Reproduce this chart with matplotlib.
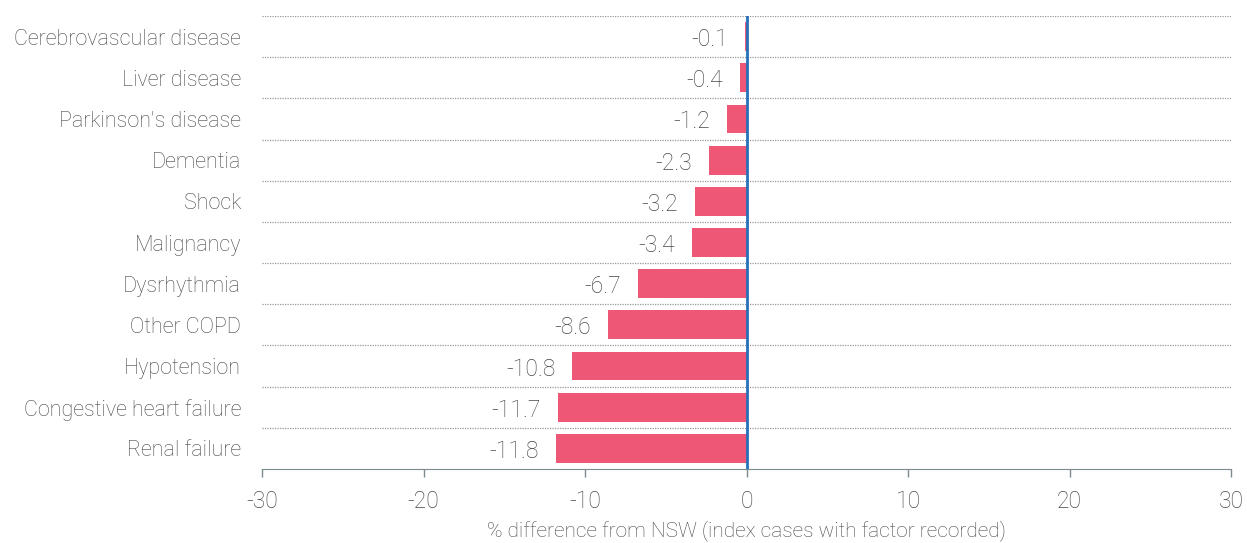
import matplotlib.pyplot as plt
from matplotlib.transforms import offset_copy

categories = ["Cerebrovascular disease", "Liver disease", "Parkinson's disease",
              "Dementia", "Shock", "Malignancy", "Dysrhythmia", "Other COPD",
              "Hypotension", "Congestive heart failure", "Renal failure"]
values = [-0.1, -0.4, -1.2, -2.3, -3.2, -3.4, -6.7, -8.6, -10.8, -11.7, -11.8]
xticks = [-30, -20, -10, 0, 10, 20, 30]
xlabel = "% difference from NSW (index cases with factor recorded)"

plt.rcParams['font.family'] = ['Roboto', 'DejaVu Sans']
plt.rcParams['font.weight'] = 'light'
grey = "#484848"

fig = plt.figure(figsize=(12.47, 5.43), dpi=100)
ax = fig.add_axes([262 / 1247, 1 - 469 / 543, (1231 - 262) / 1247, (469 - 16) / 543])

ypos = list(range(len(categories)))
ax.barh(ypos, values, height=0.7, color="#EE5876", zorder=2)
ax.axvline(0, color="#2671B8", lw=2, zorder=3)

# dotted separators between rows
for i in range(len(categories)):
    ax.axhline(i - 0.5, color="#999999", lw=0.9, ls=(0, (1, 1)), zorder=1)

trans = offset_copy(ax.transData, fig=fig, x=-17, y=-3, units='dots')
for y, v in zip(ypos, values):
    ax.text(v, y, f"{v:.1f}", transform=trans, ha="right", va="center",
            fontsize=16.5, color=grey, fontweight="light")

ax.set_xlim(-30, 30)
ax.set_ylim(len(categories) - 0.5, -0.5)
ax.set_xticks(xticks)
ax.set_xticklabels([str(t) for t in xticks], fontweight="light")
ax.set_yticks(ypos)
ax.set_yticklabels(categories, fontweight="light")
ax.tick_params(axis="y", length=0, pad=15, labelsize=15.5, labelcolor=grey)
ax.tick_params(axis="x", length=6, width=1, color="#7a8a8f", pad=9,
               labelsize=16.5, labelcolor=grey)
ax.set_xlabel(xlabel, fontsize=15, color=grey, labelpad=5, fontweight="light")

for s in ["top", "right", "left"]:
    ax.spines[s].set_visible(False)
ax.spines["bottom"].set_color("#7a8a8f")

fig.savefig("out.png", dpi=100)
